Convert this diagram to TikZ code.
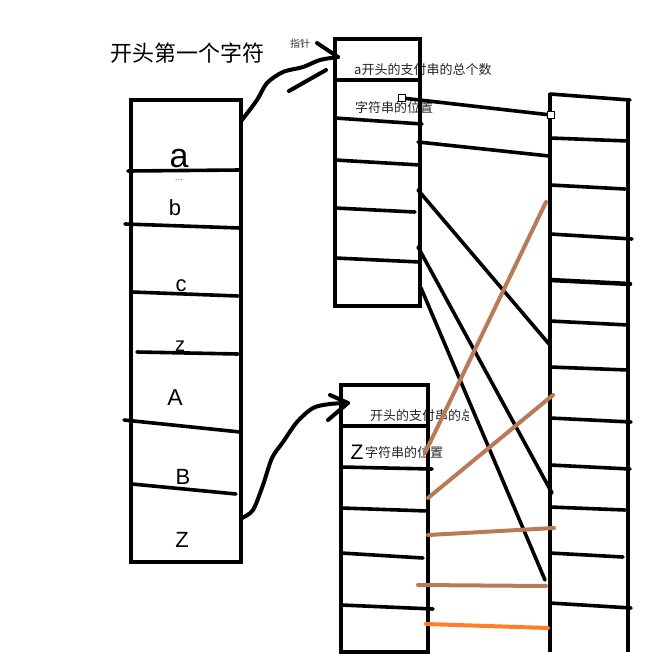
\documentclass[tikz,border=0pt]{standalone}
\usepackage{fontspec}
\setmainfont{Liberation Sans}
\newfontfamily\cjk{Noto Sans CJK SC}
\definecolor{pbrown}{RGB}{185,122,87}
\definecolor{porange}{RGB}{255,127,39}
\tikzset{
  boxline/.style={line width=4.5pt},
  divline/.style={line width=3.6pt, line cap=round},
  conn/.style={line width=3.6pt, line cap=round},
  hand/.style={line width=4pt, line cap=round, line join=round},
  brownl/.style={draw=pbrown, line width=4pt, line cap=round},
  orangel/.style={draw=porange, line width=4pt, line cap=round},
  lbl/.style={inner sep=0pt, anchor=west, text=black!85},
  letter/.style={inner sep=0pt},
  sq/.style={draw, fill=white, line width=0.9pt, minimum size=6.5pt, inner sep=0pt}
}
\newcommand{\fs}[1]{\fontsize{#1}{#1}\selectfont}
\begin{document}
\begin{tikzpicture}[x=1pt,y=-1pt]
\useasboundingbox (0,0) rectangle (666,667);
\fill[white] (0,0) rectangle (666,667);

% ---------- texts ----------
\node[letter] (title) at (187,53) {\cjk\fs{22}开头第一个字符};
\node[letter, text=black!80] (ptr) at (300,44) {\cjk\fs{10}指针};
\node[lbl] (t1) at (354,70) {\cjk\fs{13}a开头的支付串的总个数};
\node[lbl] (t2) at (355,108) {\cjk\fs{13}字符串的位置};
\begin{scope}
  \clip (340,400) rectangle (468,430);
  \node[lbl] (t3) at (370,416) {\cjk\fs{13}开头的支付串的总个数};
\end{scope}
\node[letter] (zz) at (357,452) {\fs{21}Z};
\node[lbl] (t4) at (365,453) {\cjk\fs{13}字符串的位置};

\node[letter] (la) at (179,159) {\fs{34}a};
\node[letter, text=black!55] (ldots) at (179,180) {\fs{10}...};
\node[letter] (lb) at (175,208) {\fs{22}b};
\node[letter] (lc) at (181,286) {\fs{22}c};
\node[letter] (lz) at (180,346) {\fs{20}z};
\node[letter] (lA) at (175,398) {\fs{23}A};
\node[letter] (lB) at (183,477) {\fs{22}B};
\node[letter] (lZ) at (182,540) {\fs{22}Z};

% ---------- left box ----------
\draw[boxline] (131,100) rectangle (241,562);
\draw[divline] (128,171) -- (240,170);
\draw[divline] (125,224) -- (240,228);
\draw[divline] (132,292) -- (238,296);
\draw[divline] (137,352) -- (238,354);
\draw[divline] (124,420) -- (240,432);
\draw[divline] (132,484) -- (236,494);

% ---------- top middle box ----------
\draw[boxline] (335,39) rectangle (420,306);
\draw[divline] (335,80) -- (420,80);
\draw[divline] (335,118) -- (422,124);
\draw[divline] (335,160) -- (420,165);
\draw[divline] (335,208) -- (415,212);
\draw[divline] (335,258) -- (420,262);

% ---------- lower middle box ----------
\draw[boxline] (341,385) rectangle (428,652);
\draw[divline] (341,426) -- (428,426);
\draw[divline] (341,467) -- (432,469);
\draw[divline] (341,508) -- (428,511);
\draw[divline] (341,553) -- (423,558);
\draw[divline] (341,605) -- (433,609);

% ---------- right box ----------
\draw[boxline] (550,93) -- (550,652);
\draw[boxline] (628,98) -- (628,652);
\draw[divline] (550,94) -- (630,100);
\draw[divline] (550,138) -- (628,141);
\draw[divline] (550,185) -- (625,189);
\draw[divline] (550,234) -- (632,239);
\draw[divline, line width=4.5pt] (550,280) -- (630,284);
\draw[divline] (550,321) -- (628,325);
\draw[divline] (550,367) -- (628,370);
\draw[divline] (550,418) -- (631,422);
\draw[divline] (550,465) -- (630,469);
\draw[divline] (550,507) -- (625,510);
\draw[divline] (550,553) -- (623,557);
\draw[divline] (550,603) -- (631,608);

% ---------- connector end points ----------
\coordinate (c1s) at (418,142); \coordinate (c1e) at (549,156);
\coordinate (c2s) at (418,190); \coordinate (c2e) at (549,344);
\coordinate (c3s) at (418,247); \coordinate (c3e) at (552,493);
\coordinate (c4s) at (421,288); \coordinate (c4e) at (545,580);
\node[sq] (s1) at (402,98) {};
\node[sq] (s2) at (551,115) {};

% black connectors
\draw[conn] (s1.center) -- (s2.center);
\draw[conn] (c1s) -- (c1e);
\draw[conn] (c2s) -- (c2e);
\draw[conn] (c3s) -- (c3e);
\draw[conn] (c4s) -- (c4e);
\node[sq] at (s1) {};
\node[sq] at (s2) {};

% brown / orange connectors
\coordinate (b1s) at (546,202); \coordinate (b1e) at (425,453);
\coordinate (b2s) at (553,395); \coordinate (b2e) at (428,498);
\coordinate (b3s) at (428,535); \coordinate (b3e) at (554,528);
\coordinate (b4s) at (418,585); \coordinate (b4e) at (546,586);
\coordinate (o1s) at (426,624); \coordinate (o1e) at (548,628);
\draw[brownl] (b1s) -- (b1e);
\draw[brownl] (b2s) -- (b2e);
\draw[brownl] (b3s) -- (b3e);
\draw[brownl] (b4s) -- (b4e);
\draw[orangel] (o1s) -- (o1e);

% ---------- hand-drawn arrows ----------
\coordinate (a1s) at (242,120);
\coordinate (a1t) at (338,57);
\draw[hand] plot[smooth] coordinates {(a1s) (257,100) (267,83) (283,72) (303,67) (320,60) (a1t)};
\draw[hand] (317,43) -- (a1t);
\draw[hand] (289,91) -- (326,70);

\coordinate (a2s) at (242,518);
\coordinate (a2t) at (348,403);
\draw[hand] plot[smooth] coordinates {(a2s) (253,510) (263,485) (272,458) (283,442) (297,422) (313,408) (330,404) (a2t)};
\draw[hand] (330,395) -- (a2t) -- (328,420);
\end{tikzpicture}
\end{document}
